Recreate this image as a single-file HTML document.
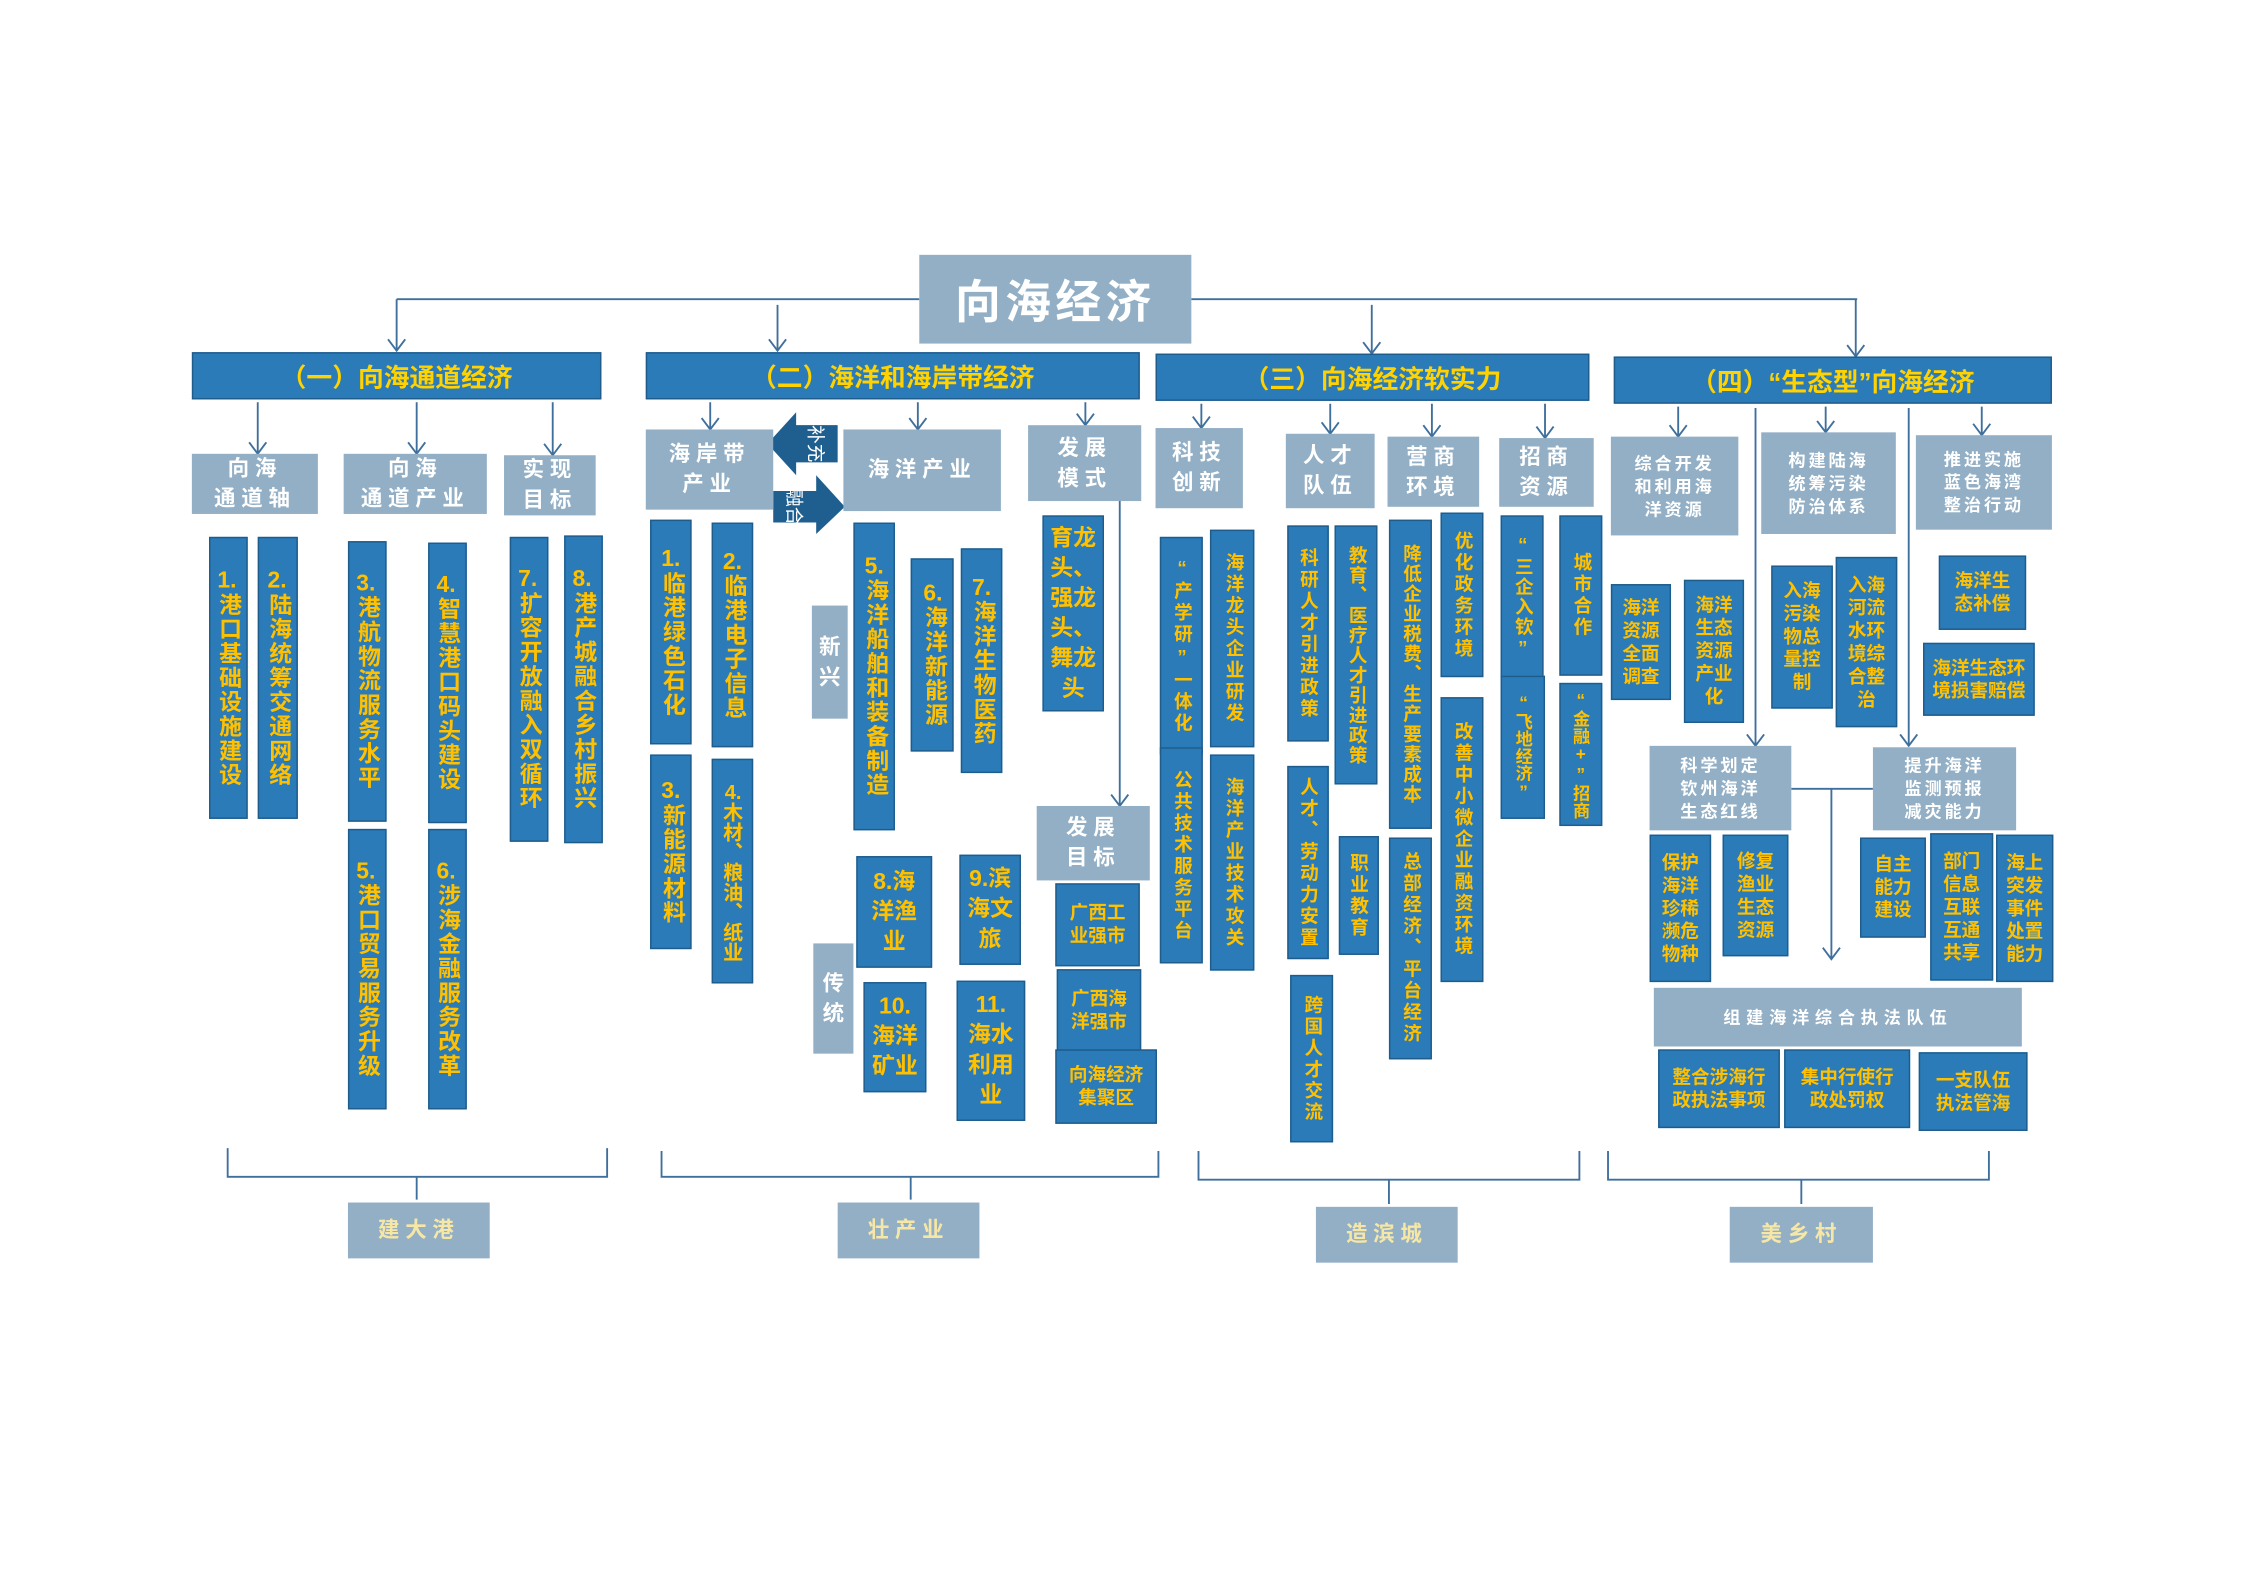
<!DOCTYPE html>
<html><head><meta charset="utf-8"><style>
html,body{margin:0;padding:0;background:#fff;}
body{width:2245px;height:1587px;overflow:hidden;position:relative;}
#s{position:absolute;left:0;top:0;width:1560px;height:1103px;transform:scale(1.4319,1.4316);transform-origin:0 0;font-family:"Liberation Sans","Noto Sans CJK SC","WenQuanYi Zen Hei",sans-serif;}
#s div{position:absolute;box-sizing:border-box;}
.b{background:#2B7BB8;border:1px solid #1e5c8c;color:#FFC000;font-weight:bold;}
.g{background:#92AFC5;color:#fff;}
.v{writing-mode:vertical-rl;text-orientation:upright;text-align:center;font-size:16px;line-height:27px;letter-spacing:1px;white-space:nowrap;}
.v2{writing-mode:vertical-rl;text-orientation:upright;text-align:center;font-size:13px;line-height:28px;letter-spacing:2px;white-space:nowrap;}
.n{text-combine-upright:all;}
.h{display:flex;align-items:center;justify-content:center;text-align:center;}
.hd{display:flex;align-items:center;justify-content:center;font-size:18px;font-weight:bold;color:#FFD200;background:#2B7BB8;border:1px solid #1e5c8c;}
.sg{display:flex;align-items:center;justify-content:center;text-align:center;font-size:15px;line-height:21px;letter-spacing:4px;background:#92AFC5;color:#fff;font-weight:bold;}
.sm{font-size:12px;line-height:16px;letter-spacing:2px;}
.bl{font-size:16px;line-height:21px;}
.bs{font-size:13px;line-height:16px;}
svg{position:absolute;left:0;top:0;}
</style></head><body><div id="s">
<svg width="1560" height="1103" viewBox="0 0 1560 1103">
<g stroke="#3f6f9c" stroke-width="1.3" fill="none">
<path d="M277 209H642M832 209H1297"/>
<path d="M277 209V245M543 213V245M958 213V247M1296 209V249"/>
<path d="M271 237L277 245L283 237M537 237L543 245L549 237M952 239L958 247L964 239M1290 241L1296 249L1302 241"/>
<path d="M180 281V317M291 281V317M386 281V318M174 309L180 317L186 309M285 309L291 317L297 309M380 310L386 318L392 310"/>
<path d="M496 281V300M641 281V300M758 281V297M490 292L496 300L502 292M635 292L641 300L647 292M752 289L758 297L764 289"/>
<path d="M839 282V299M929 282V303M1000 282V305M1079 282V306M833 291L839 299L845 291M923 295L929 303L935 295M994 297L1000 305L1006 297M1073 298L1079 306L1085 298"/>
<path d="M1172 284V305M1275 284V302M1384 284V304M1166 297L1172 305L1178 297M1269 294L1275 302L1281 294M1378 296L1384 304L1390 296"/>
<path d="M1226 285V521M1333 285V521M1220 513L1226 521L1232 513M1327 513L1333 521L1339 513"/>
<path d="M782 350V563M776 555L782 563L788 555"/>
<path d="M1251 551H1308M1279 551V670M1273 662L1279 670L1285 662"/>
<path d="M159 802V822H424V802M291 822V838"/>
<path d="M462 804V822H809V804M636 822V838"/>
<path d="M837 804V824H1103V804M970 824V841"/>
<path d="M1123 804V824H1389V804M1258 824V841"/>
</g>
<polygon points="536,310 556,288 556,297 585,297 585,323 556,323 556,332" fill="#1F5F8F"/>
<polygon points="540,343 570,343 570,332 590,354 570,373 570,365 540,365" fill="#1F5F8F"/>
<text x="570" y="315" fill="#fff" font-size="13" text-anchor="middle" transform="rotate(90 570 310)" font-family="Liberation Sans,Noto Sans CJK SC,sans-serif">补充</text>
<text x="555" y="359" fill="#fff" font-size="13" text-anchor="middle" transform="rotate(90 555 354)" font-family="Liberation Sans,Noto Sans CJK SC,sans-serif">融合</text>
</svg>

<div class="g h" style="left:642px;top:178px;width:190px;height:62px;font-size:32px;font-weight:bold;letter-spacing:3px;">向海经济</div>

<div class="hd" style="left:134px;top:246px;width:286px;height:33px;">（一）向海通道经济</div>
<div class="hd" style="left:451px;top:246px;width:345px;height:33px;">（二）海洋和海岸带经济</div>
<div class="hd" style="left:807px;top:247px;width:303px;height:33px;">（三）向海经济软实力</div>
<div class="hd" style="left:1127px;top:249px;width:306px;height:33px;">（四）“生态型”向海经济</div>

<div class="sg" style="left:134px;top:317px;width:88px;height:42px;">向海<br>通道轴</div>
<div class="sg" style="left:240px;top:317px;width:100px;height:42px;">向海<br>通道产业</div>
<div class="sg" style="left:352px;top:318px;width:64px;height:42px;">实现<br>目标</div>

<div class="b v" style="left:146px;top:375px;width:27px;height:197px;"><span class="n">1.</span>港口基础设施建设</div>
<div class="b v" style="left:180px;top:375px;width:28px;height:197px;"><span class="n">2.</span>陆海统筹交通网络</div>
<div class="b v" style="left:243px;top:378px;width:27px;height:196px;"><span class="n">3.</span>港航物流服务水平</div>
<div class="b v" style="left:299px;top:379px;width:27px;height:196px;"><span class="n">4.</span>智慧港口码头建设</div>
<div class="b v" style="left:243px;top:579px;width:27px;height:196px;"><span class="n">5.</span>港口贸易服务升级</div>
<div class="b v" style="left:299px;top:579px;width:27px;height:196px;"><span class="n">6.</span>涉海金融服务改革</div>
<div class="b v" style="left:356px;top:375px;width:27px;height:213px;"><span class="n">7.</span>扩容开放融入双循环</div>
<div class="b v" style="left:394px;top:374px;width:27px;height:215px;"><span class="n">8.</span>港产城融合乡村振兴</div>

<div class="sg" style="left:451px;top:300px;width:89px;height:56px;">海岸带<br>产业</div>
<div class="sg" style="left:589px;top:300px;width:110px;height:57px;">海洋产业</div>
<div class="sg" style="left:718px;top:297px;width:79px;height:53px;">发展<br>模式</div>

<div class="b v" style="left:454px;top:363px;width:29px;height:157px;"><span class="n">1.</span>临港绿色石化</div>
<div class="b v" style="left:497px;top:365px;width:29px;height:157px;"><span class="n">2.</span>临港电子信息</div>
<div class="b v" style="left:454px;top:527px;width:29px;height:136px;"><span class="n">3.</span>新能源材料</div>
<div class="b v" style="left:497px;top:530px;width:29px;height:157px;font-size:14px;letter-spacing:0;"><span class="n">4.</span>木材、粮油、纸业</div>
<div class="g sg" style="left:567px;top:423px;width:25px;height:79px;letter-spacing:0;">新<br>兴</div>
<div class="b v" style="left:596px;top:365px;width:29px;height:215px;"><span class="n">5.</span>海洋船舶和装备制造</div>
<div class="b v" style="left:636px;top:390px;width:30px;height:135px;"><span class="n">6.</span>海洋新能源</div>
<div class="b v" style="left:671px;top:383px;width:29px;height:157px;"><span class="n">7.</span>海洋生物医药</div>
<div class="b h" style="left:728px;top:360px;width:43px;height:137px;font-size:16px;line-height:21px;">育龙<br>头、<br>强龙<br>头、<br>舞龙<br>头</div>
<div class="sg" style="left:724px;top:563px;width:79px;height:52px;">发展<br>目标</div>
<div class="b h bl" style="left:598px;top:598px;width:53px;height:78px;">8.海<br>洋渔<br>业</div>
<div class="b h bl" style="left:670px;top:597px;width:43px;height:77px;">9.滨<br>海文<br>旅</div>
<div class="g sg" style="left:568px;top:659px;width:28px;height:77px;letter-spacing:0;">传<br>统</div>
<div class="b h bl" style="left:603px;top:686px;width:44px;height:77px;">10.<br>海洋<br>矿业</div>
<div class="b h bl" style="left:668px;top:685px;width:48px;height:98px;">11.<br>海水<br>利用<br>业</div>
<div class="b h bs" style="left:737px;top:617px;width:59px;height:58px;">广西工<br>业强市</div>
<div class="b h bs" style="left:738px;top:677px;width:59px;height:57px;">广西海<br>洋强市</div>
<div class="b h bs" style="left:737px;top:733px;width:71px;height:52px;">向海经济<br>集聚区</div>

<div class="sg" style="left:807px;top:299px;width:61px;height:56px;">科技<br>创新</div>
<div class="sg" style="left:898px;top:303px;width:62px;height:52px;">人才<br>队伍</div>
<div class="sg" style="left:969px;top:305px;width:64px;height:49px;">营商<br>环境</div>
<div class="sg" style="left:1047px;top:306px;width:66px;height:48px;">招商<br>资源</div>

<div class="b v2" style="left:810px;top:375px;width:30px;height:152px;">“产学研”一体化</div>
<div class="b v2" style="left:845px;top:370px;width:31px;height:152px;">海洋龙头企业研发</div>
<div class="b v2" style="left:810px;top:522px;width:30px;height:151px;">公共技术服务平台</div>
<div class="b v2" style="left:845px;top:527px;width:31px;height:151px;">海洋产业技术攻关</div>
<div class="b v2" style="left:899px;top:367px;width:29px;height:151px;">科研人才引进政策</div>
<div class="b v2" style="left:932px;top:367px;width:30px;height:181px;letter-spacing:1px;">教育、医疗人才引进政策</div>
<div class="b v2" style="left:899px;top:535px;width:29px;height:135px;">人才、劳动力安置</div>
<div class="b v2" style="left:935px;top:584px;width:28px;height:83px;">职业教育</div>
<div class="b v2" style="left:901px;top:681px;width:30px;height:117px;">跨国人才交流</div>
<div class="b v2" style="left:970px;top:363px;width:30px;height:216px;letter-spacing:1px;">降低企业税费、生产要素成本</div>
<div class="b v2" style="left:1006px;top:358px;width:30px;height:115px;">优化政务环境</div>
<div class="b v2" style="left:1006px;top:487px;width:30px;height:199px;">改善中小微企业融资环境</div>
<div class="b v2" style="left:970px;top:585px;width:30px;height:155px;">总部经济、平台经济</div>
<div class="b v2" style="left:1048px;top:360px;width:30px;height:114px;letter-spacing:1px;">“三企入钦”</div>
<div class="b v2" style="left:1089px;top:360px;width:30px;height:112px;">城市合作</div>
<div class="b v2" style="left:1048px;top:472px;width:31px;height:100px;font-size:12px;letter-spacing:0;">“飞地经济”</div>
<div class="b v2" style="left:1089px;top:477px;width:30px;height:100px;font-size:12px;letter-spacing:0;">“金融+”招商</div>

<div class="sg sm" style="left:1125px;top:305px;width:89px;height:69px;">综合开发<br>和利用海<br>洋资源</div>
<div class="sg sm" style="left:1230px;top:302px;width:94px;height:71px;">构建陆海<br>统筹污染<br>防治体系</div>
<div class="sg sm" style="left:1338px;top:304px;width:95px;height:66px;">推进实施<br>蓝色海湾<br>整治行动</div>

<div class="b h bs" style="left:1125px;top:408px;width:42px;height:81px;">海洋<br>资源<br>全面<br>调查</div>
<div class="b h bs" style="left:1176px;top:405px;width:42px;height:100px;">海洋<br>生态<br>资源<br>产业<br>化</div>
<div class="b h bs" style="left:1237px;top:395px;width:43px;height:100px;">入海<br>污染<br>物总<br>量控<br>制</div>
<div class="b h bs" style="left:1282px;top:389px;width:43px;height:119px;">入海<br>河流<br>水环<br>境综<br>合整<br>治</div>
<div class="b h bs" style="left:1354px;top:388px;width:61px;height:52px;">海洋生<br>态补偿</div>
<div class="b h bs" style="left:1343px;top:449px;width:78px;height:51px;">海洋生态环<br>境损害赔偿</div>
<div class="sg sm" style="left:1152px;top:521px;width:99px;height:59px;">科学划定<br>钦州海洋<br>生态红线</div>
<div class="sg sm" style="left:1308px;top:522px;width:100px;height:58px;">提升海洋<br>监测预报<br>减灾能力</div>
<div class="b h bs" style="left:1152px;top:583px;width:43px;height:103px;">保护<br>海洋<br>珍稀<br>濒危<br>物种</div>
<div class="b h bs" style="left:1203px;top:583px;width:46px;height:85px;">修复<br>渔业<br>生态<br>资源</div>
<div class="b h bs" style="left:1299px;top:585px;width:46px;height:70px;">自主<br>能力<br>建设</div>
<div class="b h bs" style="left:1348px;top:582px;width:44px;height:103px;">部门<br>信息<br>互联<br>互通<br>共享</div>
<div class="b h bs" style="left:1394px;top:583px;width:40px;height:103px;">海上<br>突发<br>事件<br>处置<br>能力</div>
<div class="sg sm" style="left:1155px;top:690px;width:257px;height:41px;letter-spacing:4px;">组建海洋综合执法队伍</div>
<div class="b h bs" style="left:1158px;top:733px;width:85px;height:55px;">整合涉海行<br>政执法事项</div>
<div class="b h bs" style="left:1246px;top:733px;width:88px;height:55px;">集中行使行<br>政处罚权</div>
<div class="b h bs" style="left:1340px;top:735px;width:76px;height:55px;">一支队伍<br>执法管海</div>

<div class="sg" style="left:243px;top:840px;width:99px;height:39px;color:#F6E7A6;">建大港</div>
<div class="sg" style="left:585px;top:840px;width:99px;height:39px;color:#F6E7A6;">壮产业</div>
<div class="sg" style="left:919px;top:843px;width:99px;height:39px;color:#F6E7A6;">造滨城</div>
<div class="sg" style="left:1208px;top:843px;width:100px;height:39px;color:#F6E7A6;">美乡村</div>
</div></body></html>
